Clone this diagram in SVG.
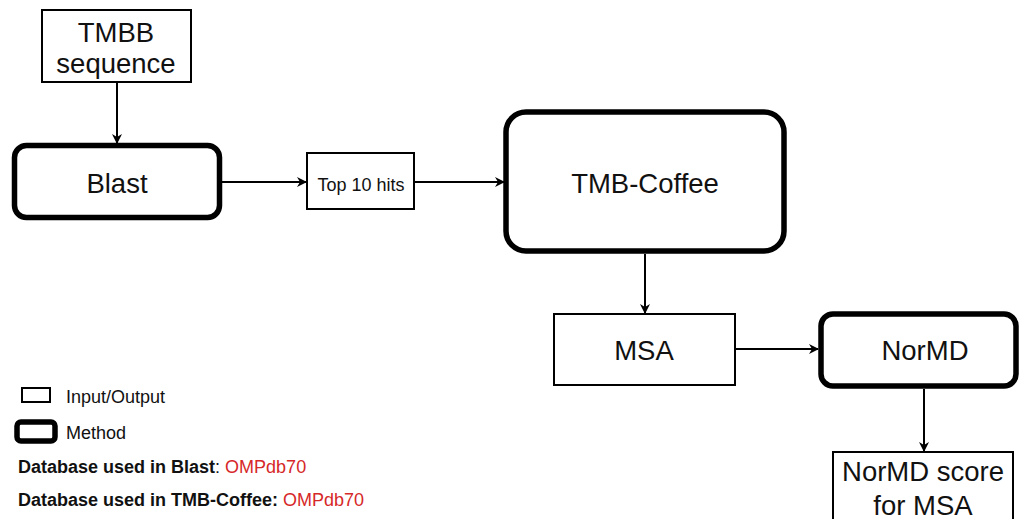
<svg xmlns="http://www.w3.org/2000/svg" width="1021" height="519" viewBox="0 0 1021 519">
  <style>
    .io { fill: #fff; stroke: #000; stroke-width: 2; }
    .method { fill: #fff; stroke: #000; stroke-width: 5.5; }
    .lbl { font-family: "Liberation Sans", Arial, sans-serif; font-size: 27.5px; fill: #111; text-anchor: middle; }
    .small { font-family: "Liberation Sans", Arial, sans-serif; font-size: 18px; fill: #111; }
    .bold { font-weight: bold; }
    .red { fill: #d62828; }
    .edge { fill: none; stroke: #000; stroke-width: 2; marker-end: url(#arrow); }
  </style>
  <defs>
    <marker id="arrow" viewBox="0 0 10 10" refX="9" refY="5" markerWidth="10" markerHeight="10" markerUnits="userSpaceOnUse" orient="auto">
      <path d="M0,0 L10,5 L0,10 L3,5 z" fill="#000"/>
    </marker>
  </defs>
  <rect width="1021" height="519" fill="#fff"/>

  <g id="connectors">
    <path class="edge" d="M117,82 V143"/>
    <path class="edge" d="M222,182 H306"/>
    <path class="edge" d="M414,182 H504"/>
    <path class="edge" d="M645,254 V313"/>
    <path class="edge" d="M735,349 H818"/>
    <path class="edge" d="M924,389 V451"/>
  </g>

  <g id="tmbb-sequence">
    <rect class="io" x="42" y="10" width="149" height="72"/>
    <text class="lbl" x="116" y="42">TMBB</text>
    <text class="lbl" x="116" y="73">sequence</text>
  </g>

  <g id="blast">
    <rect class="method" x="14.5" y="145.5" width="205" height="72" rx="12"/>
    <text class="lbl" x="117" y="193">Blast</text>
  </g>

  <g id="top-hits">
    <rect class="io" x="307" y="153" width="107" height="56"/>
    <text class="small" x="361" y="191" text-anchor="middle">Top 10 hits</text>
  </g>

  <g id="tmb-coffee">
    <rect class="method" x="506" y="112" width="278" height="139" rx="20"/>
    <text class="lbl" x="645" y="193">TMB-Coffee</text>
  </g>

  <g id="msa">
    <rect class="io" x="554" y="314" width="181" height="71"/>
    <text class="lbl" x="644" y="360">MSA</text>
  </g>

  <g id="normd">
    <rect class="method" x="821" y="314" width="195" height="72" rx="12"/>
    <text class="lbl" x="925" y="360">NorMD</text>
  </g>

  <g id="normd-score">
    <rect class="io" x="833" y="452" width="180" height="72"/>
    <text class="lbl" x="923" y="481">NorMD score</text>
    <text class="lbl" x="923" y="515">for MSA</text>
  </g>

  <g id="legend">
    <rect class="io" x="22" y="388" width="28" height="14"/>
    <text class="small" x="66" y="403">Input/Output</text>
    <rect class="method" x="17" y="422" width="38" height="19" rx="4"/>
    <text class="small" x="66" y="439">Method</text>
    <text class="small" x="18" y="473"><tspan class="bold">Database used in Blast</tspan>: <tspan class="red">OMPdb70</tspan></text>
    <text class="small" x="18" y="506"><tspan class="bold">Database used in TMB-Coffee:</tspan> <tspan class="red">OMPdb70</tspan></text>
  </g>
</svg>
